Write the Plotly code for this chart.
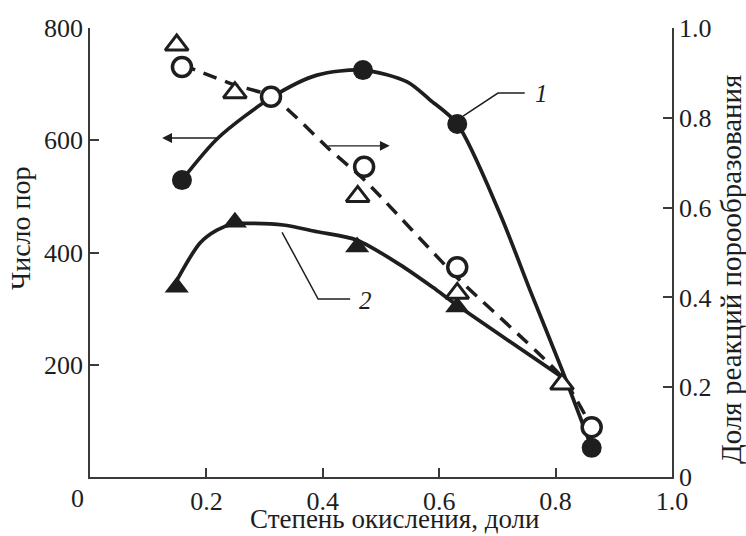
import plotly.graph_objects as go

# Измеренные точки: число пор (левая ось)
x_pores_circ = [0.158, 0.469, 0.631, 0.862]
pores_circ = [529, 725, 629, 52]
x_pores_tri = [0.149, 0.249, 0.459, 0.631]
pores_tri = [338, 454, 410, 303]

# Измеренные точки: доля реакций порообразования (правая ось)
x_frac_circ = [0.158, 0.311, 0.471, 0.631, 0.862]
frac_circ = [0.913, 0.847, 0.691, 0.467, 0.111]
x_frac_tri = [0.149, 0.249, 0.460, 0.631, 0.811]
frac_tri = [0.962, 0.856, 0.625, 0.409, 0.207]

# Сглаживающие кривые
x_curve1 = [0.158, 0.220, 0.313, 0.390, 0.469, 0.545, 0.584, 0.631, 0.704, 0.756, 0.811, 0.862]
curve1 = [529, 604, 677, 716, 725, 704, 672, 629, 470, 333, 191, 52]
x_curve2 = [0.149, 0.189, 0.218, 0.246, 0.275, 0.332, 0.390, 0.459, 0.533, 0.589, 0.631, 0.811]
curve2 = [350, 417, 440, 451, 452, 449, 437, 422, 378, 338, 306, 178]
x_curve_frac = [0.158, 0.249, 0.313, 0.412, 0.471, 0.631, 0.811, 0.862]
curve_frac = [0.918, 0.873, 0.847, 0.729, 0.662, 0.444, 0.222, 0.111]

x_ticks = [0.2, 0.4, 0.6, 0.8, 1.0]
x_ticktext = ["0.2", "0.4", "0.6", "0.8", "1.0"]
y_left_ticks = [200, 400, 600, 800]
y_right_ticks = [0, 0.2, 0.4, 0.6, 0.8, 1.0]
y_right_ticktext = ["0", "0.2", "0.4", "0.6", "0.8", "1.0"]

INK = "#1e1e1e"
AXIS = "#3a3a3a"
FONT = "Liberation Serif"

fig = go.Figure()

# кривые
fig.add_trace(go.Scatter(x=x_curve_frac, y=curve_frac, yaxis="y2", mode="lines",
                         line=dict(color=INK, width=3.5, dash="14px,9px", shape="spline", smoothing=0.6),
                         hoverinfo="skip"))
fig.add_trace(go.Scatter(x=x_curve1, y=curve1, mode="lines",
                         line=dict(color=INK, width=3.7, shape="spline", smoothing=0.8),
                         hoverinfo="skip"))
fig.add_trace(go.Scatter(x=x_curve2, y=curve2, mode="lines",
                         line=dict(color=INK, width=3.7, shape="spline", smoothing=0.8),
                         hoverinfo="skip"))

# маркеры
fig.add_trace(go.Scatter(x=x_frac_tri, y=frac_tri, yaxis="y2", mode="markers",
                         marker=dict(symbol="triangle-up", size=20, color="white",
                                     line=dict(color=INK, width=3))))
fig.add_trace(go.Scatter(x=x_frac_circ, y=frac_circ, yaxis="y2", mode="markers",
                         marker=dict(symbol="circle", size=19, color="white",
                                     line=dict(color=INK, width=3.5))))
fig.add_trace(go.Scatter(x=x_pores_tri, y=pores_tri, mode="markers",
                         marker=dict(symbol="triangle-up", size=21, color=INK,
                                     line=dict(width=0))))
fig.add_trace(go.Scatter(x=x_pores_circ, y=pores_circ, mode="markers",
                         marker=dict(symbol="circle", size=20, color=INK,
                                     line=dict(width=0))))

tickfont = dict(family=FONT, size=26, color=INK)

fig.update_layout(
    width=746, height=536,
    margin=dict(l=90, r=74, t=28, b=59),
    paper_bgcolor="white", plot_bgcolor="white",
    showlegend=False,
    font=dict(family=FONT, color=INK),
    xaxis=dict(range=[0, 1.0], tickvals=x_ticks, ticktext=x_ticktext,
               ticks="inside", ticklen=9, tickwidth=1.5, tickcolor=AXIS,
               showline=True, linecolor=AXIS, linewidth=1.5,
               showgrid=False, zeroline=False, tickfont=tickfont),
    yaxis=dict(range=[0, 800], tickvals=y_left_ticks,
               ticks="inside", ticklen=9, tickwidth=1.5, tickcolor=AXIS,
               showline=True, linecolor=AXIS, linewidth=1.5,
               showgrid=False, zeroline=False, tickfont=tickfont),
    yaxis2=dict(range=[0, 1.0], tickvals=y_right_ticks, ticktext=y_right_ticktext,
                overlaying="y", side="right",
                ticks="inside", ticklen=9, tickwidth=1.5, tickcolor=AXIS,
                showline=True, linecolor=AXIS, linewidth=1.5,
                showgrid=False, zeroline=False, tickfont=tickfont),
)

ann_font = dict(family=FONT, size=25, color=INK)
annotations = [
    # общий ноль в начале координат
    dict(x=0, y=0, xref="x", yref="paper", text="0", showarrow=False,
         xshift=-13, yshift=-21, xanchor="center", yanchor="middle", font=tickfont),
    # подписи осей (положение в пикселях, переводится ниже)
    dict(x=395, y=519, text="Степень окисления, доли",
         font=dict(family=FONT, size=27, color=INK)),
    dict(x=20, y=228, text="Число пор", textangle=-90,
         font=dict(family=FONT, size=28, color=INK)),
    dict(x=731, y=270, text="Доля реакций порообразования", textangle=-90,
         font=dict(family=FONT, size=29, color=INK)),
    # номера кривых
    dict(x=0.775, y=684, xref="x", yref="y", text="<i>1</i>", showarrow=False,
         font=ann_font),
    dict(x=0.4725, y=315, xref="x", yref="y", text="<i>2</i>", showarrow=False,
         font=ann_font),
    # стрелки, указывающие ось для каждой кривой
    dict(x=0.124, y=604, ax=0.223, ay=604, xref="x", yref="y", axref="x", ayref="y",
         text="", showarrow=True, arrowhead=2, arrowsize=1.4, arrowwidth=1.4,
         arrowcolor=INK),
    dict(x=0.515, y=590, ax=0.407, ay=590, xref="x", yref="y", axref="x", ayref="y",
         text="", showarrow=True, arrowhead=2, arrowsize=1.4, arrowwidth=1.4,
         arrowcolor=INK),
]

# перевод пиксельных координат подписей осей в доли области построения
W, H = 746, 536
L, R, T, B = 90, 74, 28, 59
pw, ph = W - L - R, H - T - B
for a in annotations[1:4]:
    a["x"] = (a["x"] - L) / pw
    a["y"] = (H - B - a["y"]) / ph
    a.update(xref="paper", yref="paper", xanchor="center", yanchor="middle",
             showarrow=False)

fig.update_layout(annotations=annotations)

# выноски к номерам кривых
fig.add_shape(type="path", xref="x", yref="y",
              path="M 0.641,643 L 0.701,684 L 0.747,684",
              line=dict(color=INK, width=1.5))
fig.add_shape(type="path", xref="x", yref="y",
              path="M 0.330,436 L 0.392,317 L 0.447,317",
              line=dict(color=INK, width=1.5))

fig.write_html("out.html")
